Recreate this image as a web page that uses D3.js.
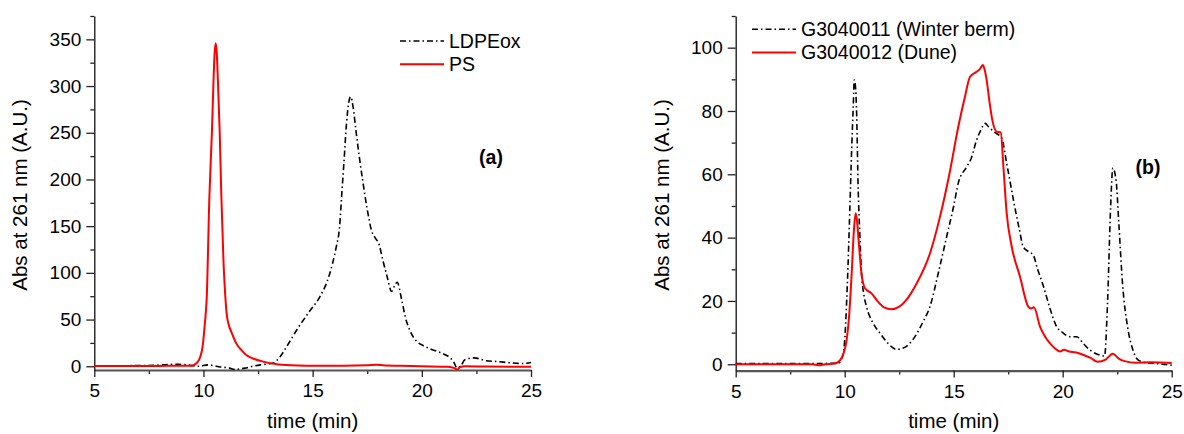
<!DOCTYPE html>
<html>
<head>
<meta charset="utf-8">
<script src="https://cdn.jsdelivr.net/npm/d3@7/dist/d3.min.js"></script>
<style>
  html, body { margin: 0; padding: 0; background: #fff; }
  svg { display: block; font-family: "Liberation Sans", Arial, sans-serif; }
  .tick text { font-size: 19px; fill: #000; }
</style>
</head>
<body>
<svg id="chart" width="1184" height="434"></svg>
<script>
// ---- Panel (a): reference polymers ----
const ldpeoxTime = [5, 5.9, 7.7, 8.5, 8.9, 9.4, 9.8, 10.2, 10.7, 11.2, 11.42, 11.9, 12.25, 12.6, 12.95, 13.2, 13.5, 13.81, 14.27, 14.8, 15.33, 15.65, 15.91, 16.1, 16.22, 16.35, 16.43, 16.55, 16.65, 16.74, 16.85, 16.98, 17.15, 17.29, 17.5, 17.7, 17.85, 18.05, 18.2, 18.4, 18.62, 18.75, 18.87, 19.07, 19.25, 19.46, 19.75, 20.07, 20.4, 20.75, 21.1, 21.3, 21.45, 21.62, 21.8, 21.97, 22.4, 22.93, 23.46, 24.16, 24.68, 25];
const ldpeoxAbs  = [0.3, 0.5, 1, 2, 2, 1, 0, 1.5, -0.5, -2, -3.3, -2, 0, 1.5, 2.5, 3.5, 10, 21, 38.8, 57, 74.4, 90, 110, 130, 146, 190, 217, 260, 282, 288.6, 278, 253, 222, 199, 168, 145, 138, 130, 115, 97, 80, 86, 90, 72, 52, 38, 27, 22, 18.5, 15.5, 12, 9, 5, -2, 1, 7, 9, 6, 5, 3.5, 3, 4];

const psTime = [5, 7, 9, 9.45, 9.69, 9.85, 9.96, 10.06, 10.15, 10.27, 10.39, 10.46, 10.51, 10.56, 10.61, 10.66, 10.74, 10.82, 10.92, 11, 11.06, 11.15, 11.29, 11.5, 11.75, 11.96, 12.2, 12.73, 13.3, 14, 14.7, 16.45, 17.5, 17.94, 18.2, 19.07, 19.95, 21.2, 21.5, 21.62, 21.74, 21.97, 23, 25];
const psAbs  = [0.4, 0.3, 0.5, 0.5, 3.5, 10, 21, 45, 74, 181, 253, 306, 335, 345.7, 335, 306, 253, 181, 110, 75, 56.6, 45, 36, 24.5, 17, 12, 9, 5, 2.5, 1, 0.5, 0.5, 1, 1.5, 1.2, 0.5, 0, -0.5, -2, -3.5, -1, 0, -0.3, -0.5];

// ---- Panel (b): beach samples ----
const bermTime = [5, 7, 9.7, 9.94, 10, 10.12, 10.24, 10.32, 10.39, 10.44, 10.49, 10.54, 10.62, 10.7, 10.77, 10.88, 11, 11.3, 11.62, 12, 12.38, 12.8, 13.2, 13.6, 13.91, 14.3, 14.7, 15, 15.21, 15.6, 15.8, 16.05, 16.25, 16.44, 16.6, 16.83, 17.2, 17.43, 17.74, 18, 18.19, 18.45, 18.65, 18.85, 19.11, 19.4, 19.72, 20, 20.33, 20.64, 20.95, 21.25, 21.71, 21.92, 22.06, 22.2, 22.3, 22.45, 22.57, 22.75, 22.97, 23.2, 23.44, 23.8, 24.2, 24.57, 25];
const bermAbs  = [0.2, 0.2, 0.3, 3.5, 7.7, 25, 50, 68, 81, 89.8, 88, 81, 55, 40, 28.7, 22, 18.2, 13, 9.8, 6.5, 4.7, 5.5, 8.5, 13.5, 18.2, 29, 41, 50, 57.2, 62.4, 65, 70.8, 74, 76.1, 75, 73.5, 71.4, 63.5, 51.9, 43, 37.1, 35.5, 34.5, 30, 24.8, 18, 11.9, 10, 8.7, 8.7, 6.5, 4.5, 2.9, 2.6, 20, 50, 62, 58, 45, 25, 12, 5, 1.5, 0.5, 0.3, 0, -0.3];

const duneTime = [5, 8.5, 8.8, 9.1, 9.6, 9.8, 9.95, 10.09, 10.2, 10.32, 10.42, 10.5, 10.57, 10.64, 10.77, 10.93, 11.23, 11.5, 11.8, 12.16, 12.5, 12.9, 13.3, 13.91, 14.35, 14.8, 15.21, 15.5, 15.75, 16.05, 16.2, 16.33, 16.42, 16.51, 16.64, 16.77, 16.97, 17.16, 17.28, 17.43, 17.66, 18.04, 18.42, 18.55, 18.68, 18.96, 19.2, 19.42, 19.65, 19.88, 20.06, 20.3, 20.58, 20.93, 21.28, 21.6, 21.97, 22.3, 22.57, 22.84, 23.36, 24.06, 25];
const duneAbs  = [0, 0, -0.3, 0, 0.3, 1.4, 3.5, 7.7, 15, 28.7, 42, 47.7, 45, 39, 28.7, 24, 22.4, 20, 18, 17.4, 18.2, 21, 25.5, 35, 46, 60, 75, 84, 90.8, 92.4, 93.2, 94.5, 93, 89.8, 83, 77.2, 73.5, 73.2, 62.4, 47.7, 37.2, 27.7, 18.2, 17.6, 18, 11.9, 8.6, 6.6, 5, 4, 4.6, 4, 3.8, 3, 2, 0.8, 1.5, 3.3, 1.8, 1, 0.5, 0.6, 0.4];

const xTicks = [5, 10, 15, 20, 25];
const xMinorTicks = [7.5, 12.5, 17.5, 22.5];
const yTicksA = [0, 50, 100, 150, 200, 250, 300, 350];
const yMinorTicksA = [25, 75, 125, 175, 225, 275, 325, 375];
const yTicksB = [0, 20, 40, 60, 80, 100];
const yMinorTicksB = [10, 30, 50, 70, 90, 110];

const svg = d3.select("#chart");

const dashDot = "6,3,1.5,3";

function drawPanel(cfg) {
  const x = d3.scaleLinear().domain([5, 25]).range([cfg.left, cfg.right]);
  const y = d3.scaleLinear().domain(cfg.yDomain).range([cfg.bottom, cfg.top]);
  const g = svg.append("g");

  // minor ticks
  g.append("g")
    .attr("transform", `translate(0,${cfg.bottom})`)
    .call(d3.axisBottom(x).tickValues(xMinorTicks).tickSize(4).tickFormat(""))
    .call(a => a.select(".domain").remove())
    .call(a => a.selectAll("line").attr("stroke", "#222").attr("stroke-width", 1.3));
  g.append("g")
    .attr("transform", `translate(${cfg.left},0)`)
    .call(d3.axisLeft(y).tickValues(cfg.yMinor).tickSize(4).tickFormat(""))
    .call(a => a.select(".domain").remove())
    .call(a => a.selectAll("line").attr("stroke", "#222").attr("stroke-width", 1.3));

  // major axes
  const xa = g.append("g")
    .attr("transform", `translate(0,${cfg.bottom})`)
    .call(d3.axisBottom(x).tickValues(xTicks).tickSize(7).tickPadding(7).tickSizeOuter(0));
  xa.select(".domain").attr("stroke", "#555").attr("stroke-width", 2.2);
  xa.selectAll(".tick line").attr("stroke", "#222").attr("stroke-width", 1.3);

  const ya = g.append("g")
    .attr("transform", `translate(${cfg.left},0)`)
    .call(d3.axisLeft(y).tickValues(cfg.yTicks).tickSize(8).tickPadding(5).tickSizeOuter(0));
  ya.select(".domain").attr("stroke", "#111").attr("stroke-width", 1.3);
  ya.selectAll(".tick line").attr("stroke", "#222").attr("stroke-width", 1.3);
  g.selectAll(".tick text").attr("font-family", "'Liberation Sans', Arial, sans-serif");

  const line = d3.line().x(d => x(d[0])).y(d => y(d[1])).curve(d3.curveMonotoneX);

  cfg.series.forEach(s => {
    const pts = s.t.map((t, i) => [t, s.v[i]]);
    g.append("path")
      .attr("d", line(pts))
      .attr("fill", "none")
      .attr("stroke", s.color)
      .attr("stroke-width", s.width)
      .attr("stroke-dasharray", s.dash || null)
      .attr("stroke-linejoin", "round");
  });

  // legend
  cfg.series.forEach((s, i) => {
    const ly = cfg.legend.y + i * 23.2;
    g.append("line")
      .attr("x1", cfg.legend.x).attr("x2", cfg.legend.x + 44)
      .attr("y1", ly).attr("y2", ly)
      .attr("stroke", s.color).attr("stroke-width", s.width)
      .attr("stroke-dasharray", s.dash || null);
    g.append("text")
      .attr("x", cfg.legend.x + 49).attr("y", ly + 6.8)
      .attr("font-size", 19.5).attr("fill", "#000")
      .text(s.name);
  });

  // panel tag
  g.append("text")
    .attr("x", cfg.tag.x).attr("y", cfg.tag.y)
    .attr("text-anchor", "middle").attr("font-size", 19.5).attr("font-weight", "bold")
    .text(cfg.tag.text);

  // axis titles
  g.append("text")
    .attr("x", (cfg.left + cfg.right) / 2).attr("y", 428)
    .attr("text-anchor", "middle").attr("font-size", 20.5)
    .text("time (min)");
  g.append("text")
    .attr("transform", `translate(${cfg.left - 67},195) rotate(-90)`)
    .attr("text-anchor", "middle").attr("font-size", 20.5)
    .text("Abs at 261 nm (A.U.)");
}

drawPanel({
  left: 94.3, right: 531, top: 16, bottom: 370,
  yDomain: [-4, 375],
  yTicks: yTicksA, yMinor: yMinorTicksA,
  legend: { x: 400, y: 41 },
  tag: { text: "(a)", x: 491, y: 164 },
  series: [
    { name: "LDPEox", t: ldpeoxTime, v: ldpeoxAbs, color: "#000", width: 1.6, dash: dashDot },
    { name: "PS", t: psTime, v: psAbs, color: "#ff0000", width: 2 }
  ]
});

drawPanel({
  left: 735.7, right: 1171.7, top: 16, bottom: 370.6,
  yDomain: [-2, 110],
  yTicks: yTicksB, yMinor: yMinorTicksB,
  legend: { x: 752, y: 29.3 },
  tag: { text: "(b)", x: 1148, y: 174 },
  series: [
    { name: "G3040011 (Winter berm)", t: bermTime, v: bermAbs, color: "#000", width: 1.6, dash: dashDot },
    { name: "G3040012 (Dune)", t: duneTime, v: duneAbs, color: "#ff0000", width: 2 }
  ]
});
</script>
</body>
</html>
